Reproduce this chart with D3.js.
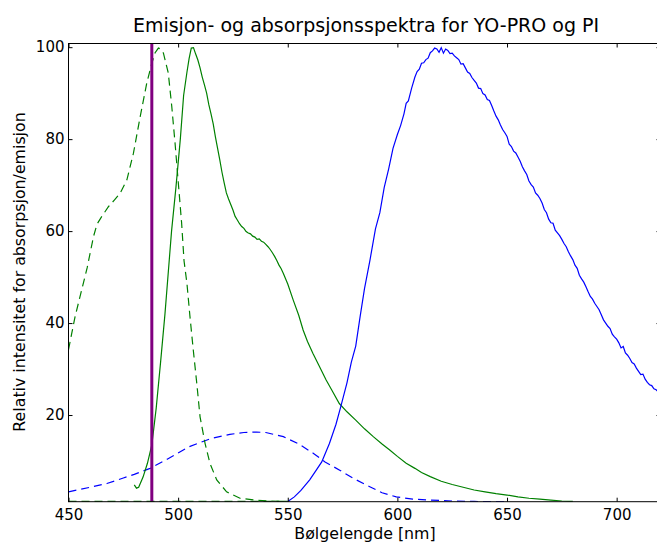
<!DOCTYPE html>
<html>
<head>
<meta charset="utf-8">
<title>Emisjon- og absorpsjonsspektra</title>
<script src="https://cdn.jsdelivr.net/npm/d3@7"></script>
<style>
  body { margin: 0; background: #fff; }
  text { font-family: "DejaVu Sans", sans-serif; }
</style>
</head>
<body>
<svg width="657" height="543" id="mainsvg"></svg>
<script>
// --- data (wavelength in nm, relative intensity) ---
const xTicks = [450, 500, 550, 600, 650, 700];
const yTicks = [20, 40, 60, 80, 100];
const laserNm = 488;

// YO-PRO absorpsjon (green dashed)
const yoAbsNm  = [450, 453, 456, 458.5, 461.4, 463, 465.2, 468.2, 471, 473.5, 476.6, 479.6, 482.7, 485.7, 488, 489.5, 491, 492, 493.3, 495.5, 497.1, 498.6, 500.1, 501.6, 502.7, 504, 505.4, 506.9, 508.5, 510, 512.3, 514.5, 517.6, 522.1, 528.2, 535, 542, 550];
const yoAbsVal = [34.2, 41.4, 47.2, 52, 58.8, 61.5, 63.2, 65.3, 66.8, 68.2, 71.1, 76.9, 84.9, 92.2, 96.5, 98.8, 99.8, 99.6, 98.7, 94.4, 87.1, 79.1, 70.4, 61.7, 53.5, 48.7, 41.4, 34.2, 26.9, 19.6, 13.8, 9.5, 5.9, 3.3, 1.9, 1.5, 1.3, 1.2];
// flat green dashed trace along the bottom
const yoBaseNm  = [450, 550];
const yoBaseVal = [1.2, 1.2];

// YO-PRO emisjon (green solid)
const yoEmNm  = [480, 481, 482, 484, 486, 488, 490, 492, 494, 496, 497, 499, 501, 502.5, 504, 505, 506, 507, 508, 509, 510, 511, 512, 513, 514, 515, 516, 517, 518, 519, 520, 521, 522, 523, 524, 525, 526, 527, 528, 529, 530, 531, 532, 533, 534, 535, 536, 537, 538, 539, 540, 541, 542, 543, 544, 545, 546, 547, 548, 550, 552.5, 555, 557, 559, 561.5, 564, 567.5, 570, 573.5, 577, 581, 585, 589, 593, 596.5, 600, 604, 608, 611, 615, 620, 625, 630, 635, 640, 645, 650, 655, 660, 665, 670, 675, 680];
const yoEmVal = [4.8, 4.1, 4.3, 6.5, 9.5, 13.5, 21.5, 31.5, 42, 54, 60, 69.5, 80, 89.5, 94.5, 97.5, 99.8, 99.9, 98.5, 97.2, 95.5, 93.5, 91.8, 90, 87.5, 85.5, 83.3, 80.5, 78, 75.5, 72.8, 70.5, 68.3, 67, 65.8, 64.6, 63.2, 62.4, 61.6, 61, 60.6, 59.9, 59.6, 59.4, 58.9, 58.7, 58.2, 58.3, 57.8, 57.6, 57.1, 56.6, 56.0, 55.3, 54.5, 53.6, 52.6, 51.8, 50.8, 48.5, 45, 41.7, 38.5, 36, 33.4, 31, 27.6, 25.5, 22.5, 20.7, 18.9, 17, 15.3, 13.7, 12.4, 11, 9.5, 8.4, 7.5, 6.6, 5.6, 4.9, 4.3, 3.7, 3.3, 2.9, 2.6, 2.2, 1.9, 1.7, 1.5, 1.3, 1.2];

// PI absorpsjon (blue dashed)
const piAbsNm  = [450, 455, 460, 467.5, 475, 480, 487.2, 495, 505, 515, 523.6, 530, 535.7, 540, 548, 555, 561.6, 567, 573.7, 580, 587.4, 593, 599.5, 607, 614.7, 625, 635, 650];
const piAbsVal = [3.3, 3.8, 4.3, 5.1, 6.3, 7.1, 8.4, 10.4, 13.1, 14.9, 15.8, 16.2, 16.3, 16.2, 15.3, 13.7, 11.7, 9.8, 8, 6.2, 4.4, 3.1, 2.2, 1.7, 1.5, 1.3, 1.2, 1.15];

// PI emisjon (blue solid)
const piEmNm  = [550, 553, 556, 560, 563, 565.5, 569, 572, 574, 577, 579, 581, 583, 585, 587.5, 590, 592, 594, 596, 598, 600, 601.5, 603, 604, 605, 606.5, 608, 609, 610, 611, 612, 613, 614, 615, 616, 617, 618, 619, 620, 621, 622, 623, 624, 625, 626, 627, 628, 629, 630, 631, 632, 633, 634, 635, 636, 637, 638, 639, 640, 641, 642, 643, 644, 645, 646, 647, 648, 649, 650, 651, 652, 653, 654, 655, 656, 657, 658, 659, 660, 661, 662, 663, 664, 665, 666, 667, 668, 669, 670, 671, 672, 673, 674, 675, 676, 677, 678, 679, 680, 681, 682, 683, 684, 685, 686, 687, 688, 689, 690, 691, 692, 693, 694, 695, 696, 697, 698, 699, 700, 701, 702, 703, 704, 705, 706, 707, 708, 709, 710, 711, 712, 713, 714, 715, 716, 717, 718, 719, 720];
const piEmVal = [1.2, 2.2, 3.6, 5.9, 8, 9.8, 13.8, 18, 21.5, 27, 31.5, 35, 41.4, 47.5, 53.7, 60.5, 64, 69.5, 73.5, 78, 81, 83, 85.5, 87.8, 88.3, 91.1, 93.5, 94.7, 95.2, 96.5, 96.6, 97.3, 97.6, 98.8, 99.2, 99.8, 99.6, 98.9, 99.9, 98.7, 99.6, 99.3, 98.6, 98.7, 98.1, 97.7, 97.3, 96.3, 96.4, 95.5, 94.6, 94.3, 93.4, 92.8, 92.2, 91.1, 91.0, 89.9, 89.6, 88.6, 88.4, 87.3, 86.1, 85.0, 84.2, 83.1, 82.1, 81.4, 80.6, 78.9, 78.4, 77.4, 77.0, 76.1, 75.2, 74.0, 73.1, 72.3, 70.9, 70.1, 69.6, 68.3, 67.8, 67.1, 66.1, 64.7, 64.0, 62.6, 61.8, 61.7, 60.2, 59.6, 59.0, 58.2, 57.3, 56.6, 55.5, 54.6, 53.8, 52.6, 51.9, 50.4, 49.6, 48.9, 47.9, 46.8, 45.8, 45.2, 44.3, 43.6, 42.9, 41.8, 40.7, 40.0, 39.3, 38.8, 37.6, 37.0, 36.5, 35.7, 34.6, 34.9, 33.5, 33.0, 32.3, 31.4, 31.1, 30.2, 29.5, 28.8, 28.9, 27.8, 27.1, 26.6, 26.4, 25.7, 25.5, 25.0, 24.6];

// --- layout ---
const svg = d3.select('#mainsvg');
const margin = { top: 43.5, left: 68.5, right: 660.5, bottom: 501.7 };
const innerWidth = margin.right - margin.left;
const innerHeight = margin.bottom - margin.top;

const xScale = d3.scaleLinear().domain([450, 720]).range([0, innerWidth]);
const yScale = d3.scaleLinear().domain([1.15, 100.8]).range([innerHeight, 0]);

const g = svg.append('g')
  .attr('transform', `translate(${margin.left}, ${margin.top})`);

g.append('clipPath').attr('id', 'clip')
  .append('rect').attr('width', innerWidth).attr('height', innerHeight);

const zip = (xs, ys) => xs.map((x, i) => [x, ys[i]]);
const line = d3.line().x(d => xScale(d[0])).y(d => yScale(d[1]));

const series = [
  { data: zip(piAbsNm, piAbsVal), color: '#0000ff', dash: '8,5' },
  { data: zip(yoBaseNm, yoBaseVal), color: '#008000', dash: '8,5' },
  { data: zip(yoAbsNm, yoAbsVal), color: '#008000', dash: '8,5' },
  { data: zip(yoEmNm, yoEmVal), color: '#008000', dash: null },
  { data: zip(piEmNm, piEmVal), color: '#0000ff', dash: null }
];

const plot = g.append('g').attr('clip-path', 'url(#clip)');
series.forEach(s => {
  plot.append('path')
    .datum(s.data)
    .attr('d', line)
    .attr('fill', 'none')
    .attr('stroke', s.color)
    .attr('stroke-width', 1.2)
    .attr('stroke-dasharray', s.dash);
});

// laser line
plot.append('line')
  .attr('x1', xScale(laserNm)).attr('x2', xScale(laserNm))
  .attr('y1', 0).attr('y2', innerHeight)
  .attr('stroke', '#800080')
  .attr('stroke-width', 3);

// axes with inward ticks (matplotlib style)
const fs = '15px';
const styleAxis = sel => {
  sel.selectAll('.domain').remove();
  sel.selectAll('text').attr('font-size', fs).attr('fill', '#000')
    .attr('font-family', '"DejaVu Sans", sans-serif');
  sel.selectAll('line').attr('stroke', '#000');
};
const noLabels = sel => sel.selectAll('text').remove();

g.append('g').attr('transform', `translate(0, ${innerHeight})`)
  .call(d3.axisBottom(xScale).tickValues(xTicks).tickSizeInner(-4).tickSizeOuter(0).tickPadding(8))
  .call(styleAxis);
g.append('g')
  .call(d3.axisTop(xScale).tickValues(xTicks).tickSizeInner(-4).tickSizeOuter(0))
  .call(styleAxis).call(noLabels);
g.append('g')
  .call(d3.axisLeft(yScale).tickValues(yTicks).tickSizeInner(-4).tickSizeOuter(0).tickPadding(4))
  .call(styleAxis);
g.append('g').attr('transform', `translate(${innerWidth}, 0)`)
  .call(d3.axisRight(yScale).tickValues(yTicks).tickSizeInner(-4).tickSizeOuter(0))
  .call(styleAxis).call(noLabels);

g.append('rect')
  .attr('width', innerWidth).attr('height', innerHeight)
  .attr('fill', 'none').attr('stroke', '#000').attr('stroke-width', 1);

// texts
svg.append('text')
  .attr('x', 366).attr('y', 32)
  .attr('text-anchor', 'middle').attr('font-size', '19px')
  .text('Emisjon- og absorpsjonsspektra for YO-PRO og PI');

svg.append('text')
  .attr('x', 365).attr('y', 539)
  .attr('text-anchor', 'middle').attr('font-size', '15.8px')
  .text('Bølgelengde [nm]');

svg.append('text')
  .attr('transform', `translate(25, 272) rotate(-90)`)
  .attr('text-anchor', 'middle').attr('font-size', '15.8px')
  .text('Relativ intensitet for absorpsjon/emisjon');
</script>
</body>
</html>
